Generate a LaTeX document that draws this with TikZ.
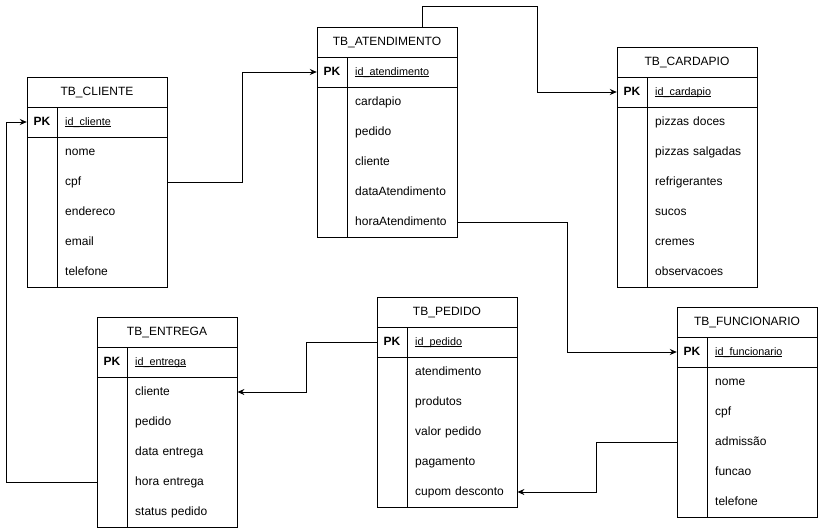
\documentclass[tikz,border=0pt]{standalone}
\usepackage{fontspec}
\setmainfont{Liberation Sans}
\usetikzlibrary{arrows.meta}

% key field text: underlined at a fixed distance below the baseline
\newcommand{\keyul}[1]{\underline{\smash{#1}}}

\tikzset{
  every node/.style={font=\fontsize{12}{14}\selectfont},
  hdr/.style={draw, line width=1pt, minimum width=140pt, minimum height=30pt, inner sep=0pt},
  keycell/.style={minimum width=30pt, minimum height=30pt, inner sep=0pt, text height=8.5pt, text depth=2.5pt},
  pkkey/.style={keycell, font=\fontsize{12}{14}\selectfont\bfseries},
  fieldcell/.style={anchor=west, minimum width=110pt, minimum height=30pt, inner xsep=8pt, inner ysep=0pt, align=left, text width=94pt, text height=8.5pt, text depth=2.5pt},
  pkname/.style={fieldcell, font=\fontsize{10.8}{13}\selectfont},
  frame/.style={line width=1pt},
  link/.style={line width=1pt, -{Stealth[length=7pt,width=6pt]}},
}

% #1 name, #2 left x, #3 top y, #4 title, #5 key field, #6 number of fields, #7 fields
\newcommand{\erTable}[7]{%
  \node[hdr] (#1) at ({#2+70},{#3+15}) {#4};
  \node[pkkey] (#1-pkk) at ({#2+15},{#3+45}) {PK};
  \node[pkname] (#1-pk) at ({#2+30},{#3+45}) {\keyul{#5}};
  \foreach [count=\i] \f in {#7} {
    \node[keycell] (#1-k\i) at ({#2+15},{#3+45+30*\i}) {};
    \node[fieldcell] (#1-\i) at ({#2+30},{#3+45+30*\i}) {\f};
  }
  \draw[frame] (#2,#3) rectangle ({#2+140},{#3+60+30*#6});
  \draw[frame] (#2,{#3+30}) -- ({#2+140},{#3+30});
  \draw[frame] (#2,{#3+60}) -- ({#2+140},{#3+60});
  \draw[frame] ({#2+30},{#3+30}) -- ({#2+30},{#3+60+30*#6});
}

\begin{document}
\begin{tikzpicture}[x=1pt,y=-1pt]
  \fill[white] (0,0) rectangle (819,528);
  \useasboundingbox (0,0) rectangle (819,528);

  \erTable{cli}{27}{77}{TB\_CLIENTE}{id\_cliente}{5}{nome,cpf,endereco,email,telefone}
  \erTable{ate}{317}{27}{TB\_ATENDIMENTO}{id\_atendimento}{5}{cardapio,pedido,cliente,dataAtendimento,horaAtendimento}
  \erTable{car}{617}{47}{TB\_CARDAPIO}{id\_cardapio}{6}{pizzas doces,pizzas salgadas,refrigerantes,sucos,cremes,observacoes}
  \erTable{ent}{97}{317}{TB\_ENTREGA}{id\_entrega}{5}{cliente,pedido,data entrega,hora entrega,status pedido}
  \erTable{ped}{377}{297}{TB\_PEDIDO}{id\_pedido}{5}{atendimento,produtos,valor pedido,pagamento,cupom desconto}
  \erTable{fun}{677}{307}{TB\_FUNCIONARIO}{id\_funcionario}{5}{nome,cpf,admissão,funcao,telefone}

  % relationships
  \draw[link] (cli-2.east) -- ++(75,0) |- (ate-pkk.west);
  \draw[link] ([xshift=-35pt]ate.north east) -- ++(0,-20) -- ++(115,0) |- (car-pkk.west);
  \draw[link] (ate-5.east) -- ++(110,0) |- (fun-pkk.west);
  \draw[link] (ent-k4.west) -- ++(-90,0) |- (cli-pkk.west);
  \draw[link] (ped-pkk.west) -- ++(-70,0) |- (ent-1.east);
  \draw[link] (fun-k3.west) -- ++(-80,0) |- (ped-5.east);
\end{tikzpicture}
\end{document}
